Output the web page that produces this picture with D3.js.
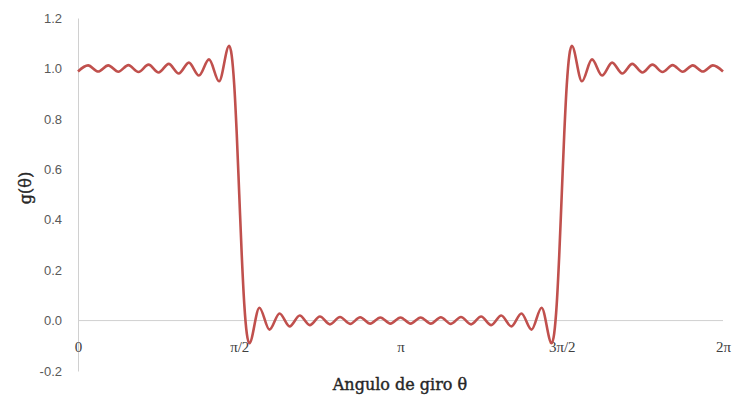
<!DOCTYPE html>
<html>
<head>
<meta charset="utf-8">
<script src="https://cdn.jsdelivr.net/npm/d3@7"></script>
<style>
  html, body { margin: 0; padding: 0; background: #ffffff; }
  svg { display: block; }
</style>
</head>
<body>
<svg id="chart" width="733" height="399"></svg>
<script>
// Angle positions in units of pi/32 and the partial-sum values g(theta) at each one
// (ripple peaks/troughs, plus a few points across each jump).
const thetaUnits = [
  0, 1, 2, 3, 4, 5, 6, 7, 8, 9, 10, 11, 12, 13, 14, 15,
  15.25, 15.5, 15.75, 16, 16.25, 16.5, 16.75,
  17, 18, 19, 20, 21, 22, 23, 24, 25, 26, 27, 28, 29, 30, 31, 32,
  33, 34, 35, 36, 37, 38, 39, 40, 41, 42, 43, 44, 45, 46, 47,
  47.25, 47.5, 47.75, 48, 48.25, 48.5, 48.75,
  49, 50, 51, 52, 53, 54, 55, 56, 57, 58, 59, 60, 61, 62, 63, 64
];
const gValues = [
  0.988, 1.012, 0.988, 1.012, 0.987, 1.013, 0.986, 1.015, 0.984, 1.018, 0.980, 1.023, 0.972, 1.036, 0.949, 1.090,
  1.052, 0.936, 0.742, 0.500, 0.258, 0.064, -0.052,
  -0.090, 0.051, -0.036, 0.028, -0.023, 0.020, -0.018, 0.016, -0.015, 0.014, -0.013, 0.013, -0.012, 0.012, -0.012, 0.012,
  -0.012, 0.012, -0.012, 0.013, -0.013, 0.014, -0.015, 0.016, -0.018, 0.020, -0.023, 0.028, -0.036, 0.051, -0.090,
  -0.052, 0.064, 0.258, 0.500, 0.742, 0.936, 1.052,
  1.090, 0.949, 1.036, 0.972, 1.023, 0.980, 1.018, 0.984, 1.015, 0.986, 1.013, 0.987, 1.012, 0.988, 1.012, 0.988
];

// Axis ticks
const xTickUnits  = [0, 16, 32, 48, 64];
const xTickLabels = ["0", "\u03C0/2", "\u03C0", "3\u03C0/2", "2\u03C0"];
const yTicks      = [-0.2, 0.0, 0.2, 0.4, 0.6, 0.8, 1.0, 1.2];

const xTitle = "Angulo de giro \u03B8";
const yTitle = "g(\u03B8)";

const svg = d3.select("#chart");

const x = d3.scaleLinear().domain([0, 64]).range([78, 723]);
const y = d3.scaleLinear().domain([-0.2, 1.2]).range([371, 18]);

const data = thetaUnits.map((u, i) => ({ u, g: gValues[i] }));

// y axis: line + labels, no tick marks; plain hyphen for negatives
const yAxis = d3.axisLeft(y)
  .tickValues(yTicks)
  .tickSize(0)
  .tickPadding(16)
  .tickFormat(d => d.toFixed(1));

const gy = svg.append("g")
  .attr("transform", `translate(${x(0)},0)`)
  .call(yAxis);
gy.select(".domain").attr("stroke", "#d0d0d0").attr("stroke-width", 1);
gy.selectAll("text")
  .attr("fill", "#595959")
  .style("font-family", "'Liberation Sans', Arial, sans-serif")
  .style("font-size", "13px");

// zero line across the plot
svg.append("line")
  .attr("x1", x(0)).attr("x2", x(64))
  .attr("y1", y(0)).attr("y2", y(0))
  .attr("stroke", "#d0d0d0").attr("stroke-width", 1);

// x tick labels below the zero line
const xAxis = d3.axisBottom(x)
  .tickValues(xTickUnits)
  .tickSize(0)
  .tickPadding(21)
  .tickFormat((d, i) => xTickLabels[i]);

const gx = svg.append("g")
  .attr("transform", `translate(0,${y(0)})`)
  .call(xAxis);
gx.select(".domain").remove();
gx.selectAll("text")
  .attr("fill", "#404040")
  .style("font-family", "'Liberation Serif', 'DejaVu Serif', serif")
  .style("font-size", "15px");

// the curve
const line = d3.line()
  .x(d => x(d.u))
  .y(d => y(d.g))
  .curve(d3.curveMonotoneX);

svg.append("path")
  .datum(data)
  .attr("d", line)
  .attr("fill", "none")
  .attr("stroke", "#c0504d")
  .attr("stroke-width", 2.6)
  .attr("stroke-linejoin", "round");

// axis titles
svg.append("text")
  .attr("x", 400)
  .attr("y", 390)
  .attr("text-anchor", "middle")
  .attr("fill", "#262626")
  .attr("stroke", "#262626")
  .attr("stroke-width", 0.4)
  .style("font-family", "'DejaVu Serif', serif")
  .style("font-size", "16px")
  .text(xTitle);

svg.append("text")
  .attr("transform", "translate(31,188) rotate(-90)")
  .attr("text-anchor", "middle")
  .attr("fill", "#262626")
  .attr("stroke", "#262626")
  .attr("stroke-width", 0.4)
  .style("font-family", "'DejaVu Serif', serif")
  .style("font-size", "16px")
  .text(yTitle);
</script>
</body>
</html>
